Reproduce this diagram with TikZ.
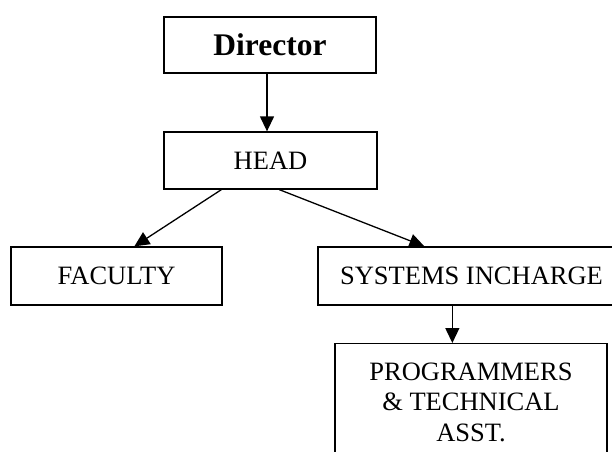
\documentclass[tikz,border=0pt]{standalone}
\usepackage{fontspec}
\setmainfont{Liberation Serif}
\usetikzlibrary{arrows.meta,positioning}
\begin{document}
\begin{tikzpicture}[x=1pt, y=-1pt,
    box/.style={draw, line width=1.3pt, inner sep=0pt, font=\fontsize{26.5}{30.5}\selectfont},
    link/.style={line width=1.3pt, -{Triangle[length=15pt,width=14pt]}}]
    \useasboundingbox (0,0) rectangle (612,451);

    % Boxes
      \node [box, minimum width=212pt, minimum height=56pt, font=\fontsize{31.5}{36}\selectfont\bfseries] (director) at (270,45) {Director};
      \node [box, minimum width=213pt, minimum height=57pt] (head) at (270.5,160.5) {HEAD};
      \node [box, minimum width=211pt, minimum height=58pt] (faculty) at (116.5,276) {FACULTY};
      \node [box, minimum width=307pt, minimum height=58pt] (systems) at (471.5,276) {SYSTEMS INCHARGE};
      \node [box, anchor=north, minimum width=272pt, inner ysep=19pt, align=center] (prog) at (471,343)
      {PROGRAMMERS\\ \& TECHNICAL\\ ASST.};

    % Arrows
      \draw [link] ([xshift=-3pt]director.south) -- ([xshift=-3.5pt]head.north);
      \draw [link] ([xshift=58pt]head.south west) -- ([xshift=124pt]faculty.north west);
      \draw [link] ([xshift=116pt]head.south west) -- ([xshift=107pt]systems.north west);
      \draw [link] ([xshift=135pt]systems.south west) -- ([xshift=118pt]prog.north west);

  \end{tikzpicture}
\end{document}
